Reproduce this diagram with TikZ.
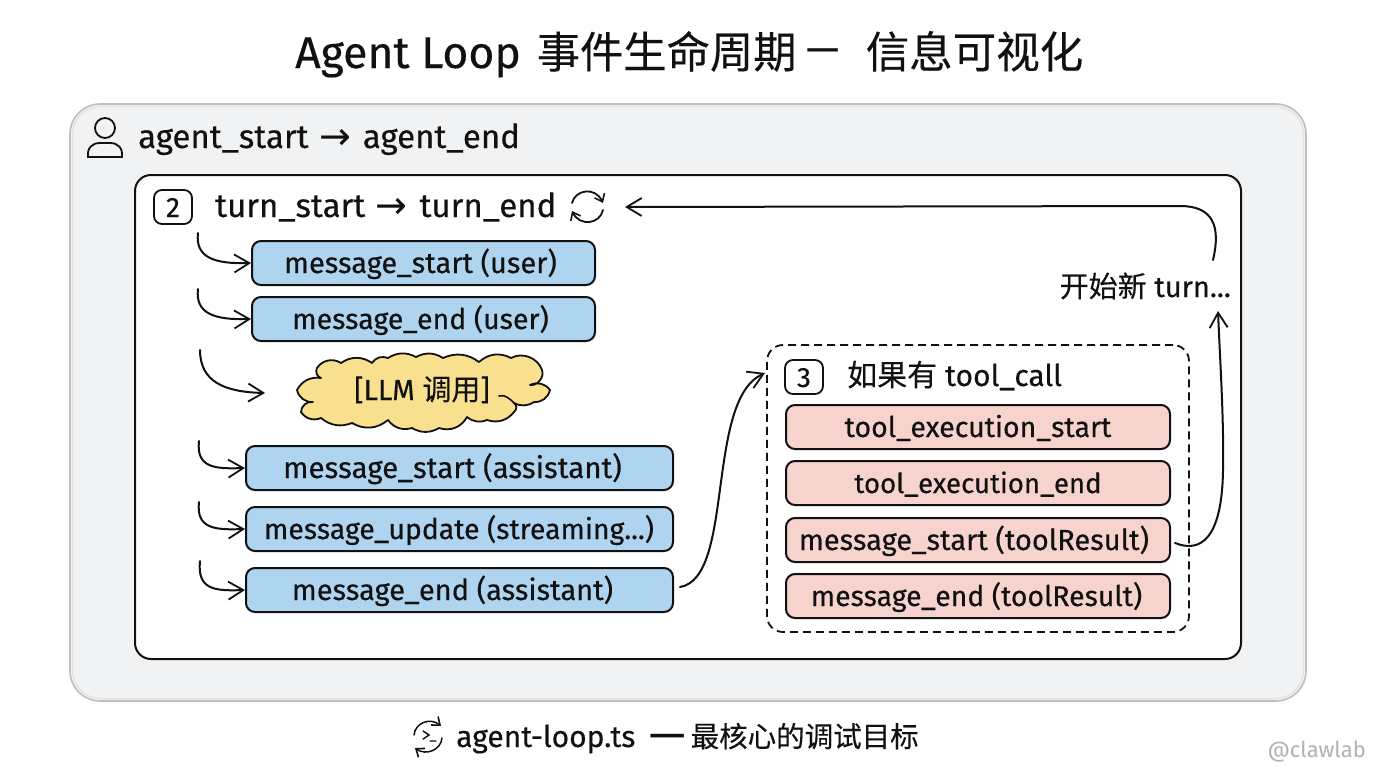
\documentclass[tikz,border=0pt]{standalone}
\usepackage{fontspec}
\setmainfont{Fira Sans}[FakeBold=0.35]
\newfontfamily\cjkf{Noto Sans CJK SC}[FakeBold=0.25]
\newfontfamily\symf{DejaVu Sans}
\newfontfamily\wmf{Fira Sans}
\usetikzlibrary{arrows.meta,calc}
\definecolor{bluefill}{HTML}{AED4EF}
\definecolor{redfill}{HTML}{F7D3CE}
\definecolor{yelfill}{HTML}{F9E08F}
\definecolor{panel}{HTML}{F1F2F4}
\definecolor{ink}{HTML}{111111}
\newcommand{\fsz}[1]{\fontsize{#1}{#1}\selectfont}
\newcommand{\arr}{\hspace{2pt}{\fsz{38}\symf\raisebox{-1pt}{→}}\hspace{3pt}}
\newcommand{\lsh}[1]{\hspace*{#1pt}}
\tikzset{
  txt/.style={text=ink,inner sep=0pt,font=\fsz{29}},
  boxtext/.style={inner sep=0pt,text=ink,text height=20pt,text depth=0pt},
  bluebox/.style={boxtext,draw=ink,fill=bluefill,line width=2pt,rounded corners=9pt,font=\fsz{29}},
  redbox/.style={boxtext,draw=ink,fill=redfill,line width=2pt,rounded corners=9pt,font=\fsz{29},minimum width=384pt,minimum height=44pt},
  badge/.style={boxtext,draw=ink,line width=1.8pt,rounded corners=8pt,minimum width=38pt,minimum height=34pt,font=\fsz{28}},
  conn/.style={draw=ink,line width=2pt,line cap=round,-{Straight Barb[length=15pt,width=18pt,line width=1.8pt]}},
  iconline/.style={draw=ink,line width=1.8pt,line cap=round},
  smalltip/.style={-{Straight Barb[length=7pt,width=11pt,line width=1.6pt]}},
}
\begin{document}
\begin{tikzpicture}[x=1pt,y=-1pt]
\useasboundingbox (0,0) rectangle (1376,768);
\fill[white] (0,0) rectangle (1376,768);
% title
\node[txt,font=\fsz{44.5},anchor=base west] (title) at (295,68) {Agent Loop\hspace{16pt}{\fsz{43.3}\cjkf 事件生命周期}\hspace{10pt}{\wmf\fsz{42}\raisebox{5pt}{—}}\hspace{26pt}{\fsz{43.5}\cjkf 信息可视化}};
% outer
\node[draw=black!25,fill=panel,line width=1.6pt,rounded corners=30pt,minimum width=1236pt,minimum height=597pt] (outer) at (688,402.5) {};
\node[draw=black!12,line width=1pt,rounded corners=28pt,minimum width=1231pt,minimum height=592pt] (outerb) at (688,402.5) {};
% person icon
\draw[iconline] (105,128) circle (10);
\draw[iconline] (88,157) .. controls (87,148) and (92,143) .. (100,143) -- (110,143) .. controls (118,143) and (123,148) .. (122,157) -- cycle;
\node[txt,anchor=base west,font=\fsz{33}] (agent) at (138,148) {agent\_start \arr{} agent\_end};
% inner
\node[draw=ink,fill=white,line width=2pt,rounded corners=16pt,minimum width=1106pt,minimum height=484pt] (inner) at (688,417) {};
\node[badge] (b2) at (173,207) {2};
\node[txt,anchor=base west,font=\fsz{33}] (turn) at (215,217) {turn\_start \arr{} turn\_end};
% refresh icon
\draw[iconline,smalltip] (572,203) .. controls (575,190) and (595,186) .. (603,203);
\draw[iconline,smalltip] (603,210) .. controls (600,224) and (580,227) .. (572,211);
% blue
\node[bluebox,minimum width=343pt,minimum height=44pt] (m1) at (423.5,263) {message\_start (user)\lsh{6}};
\node[bluebox,minimum width=343pt,minimum height=44pt,font=\fsz{28.5}] (m2) at (423.5,319) {message\_end (user)\lsh{6}};
% cloud
\path[draw=ink,fill=yelfill,line width=1.8pt,line join=round]
  (297,390) to[bend left=35] (321,378) to[bend left=50] (317,368) to[bend left=45] (341,363)
  to[bend left=35] (372,363) to[bend left=40] (388,358) to[bend left=30] (416,357) to[bend left=30] (443,358)
  to[bend left=30] (479,362) to[bend left=35] (511,358) to[bend left=50] (542,370) to[bend left=60] (530,385)
  to[bend left=40] (550,390) to[bend left=40] (534,402) to[bend left=30] (514,403) to[bend left=60] (514,412)
  to[bend left=35] (487,420) to[bend left=30] (467,417) to[bend left=40] (439,428) to[bend left=30] (412,428)
  to[bend left=35] (388,420) to[bend left=35] (352,423) to[bend left=30] (321,418) to[bend left=40] (301,412)
  to[bend left=50] (313,402) to[bend left=40] (297,390) -- cycle;
\draw[draw=ink,line width=1.6pt,line cap=round] (499,396) .. controls (505,394) and (510,399) .. (514,403);
\node[boxtext,font=\fsz{29}] (llm) at (422,390) {[LLM {\cjkf 调用}]};
\node[bluebox,minimum width=427pt,minimum height=44pt,font=\fsz{29.5}] (m3) at (459.5,468) {message\_start (assistant)\lsh{14}};
\node[bluebox,minimum width=427pt,minimum height=44pt,font=\fsz{28.4}] (m4) at (459.5,529) {message\_update (streaming...)\lsh{1}};
\node[bluebox,minimum width=427pt,minimum height=44pt] (m5) at (459.5,590) {message\_end (assistant)\lsh{14}};
% free starts
\coordinate (s1) at (198,233);
\coordinate (s2) at (198,289);
\coordinate (s3) at (200,350);
\coordinate (s4) at (199,441);
\coordinate (s5) at (199,502);
\coordinate (s6) at (200,561);
\coordinate (llmin) at (265,393);
\draw[conn] (s1) .. controls (195,258) and (215,264) .. (m1.west);
\draw[conn] (s2) .. controls (195,314) and (215,320) .. (m2.west);
\draw[conn] (s3) .. controls (200,382) and (225,392) .. (llmin);
\draw[conn] (s4) .. controls (196,468) and (215,469) .. (m3.west);
\draw[conn] (s5) .. controls (196,529) and (215,530) .. (m4.west);
\draw[conn] (s6) .. controls (197,590) and (215,591) .. (m5.west);
% dashed
\node[draw=ink,dash pattern=on 8pt off 5pt,line width=1.8pt,rounded corners=16pt,minimum width=422pt,minimum height=287pt] (dash) at (978,488.5) {};
\node[badge] (b3) at (804,377) {3};
\node[txt,anchor=base west,font=\fsz{30}] (ifcall) at (847,386) {{\cjkf 如果有} tool\_call};
\node[redbox,font=\fsz{28.5}] (t1) at (978,427) {tool\_execution\_start};
\node[redbox,font=\fsz{27.6}] (t2) at (978,483) {tool\_execution\_end};
\node[redbox] (t3) at (978,540) {message\_start (toolResult)\lsh{8}};
\node[redbox,font=\fsz{28.4}] (t4) at (978,596) {message\_end (toolResult)\lsh{3}};
% new turn
\node[txt,anchor=base east,font=\fsz{29}] (newturn) at (1231,297) {{\cjkf 开始新} turn...};
\coordinate (ret) at (1213,260);
\coordinate (icon) at (625,207);
\coordinate (up) at (1218,311);
\coordinate (tin) at (765,373);
\draw[conn] (ret) .. controls (1221,226) and (1213,206) .. (1180,206) -- (icon);
\draw[conn] (t3.east) ++(4,3) .. controls (1200,553) and (1222,540) .. (1223,470) .. controls (1224,420) and (1220,360) .. (up);
\draw[conn] (m5.east) ++(6,-3) .. controls (735,578) and (705,400) .. (tin);
% footer
\draw[iconline,smalltip,line width=1.5pt] (414,735) .. controls (415,723) and (430,717) .. (441,726);
\draw[iconline,smalltip,line width=1.5pt] (442,738) .. controls (441,750) and (426,756) .. (415,748);
\draw[iconline,line width=1.4pt] (423,731) -- (429,735) -- (423,739) (430,741) -- (436,741);
\node[txt,anchor=base west,font=\fsz{30}] (foot) at (456,747) {agent-loop.ts\hspace{14pt}{\wmf\fsz{46}\raisebox{-3pt}{—}}\hspace{5pt}{\fsz{28.5}\cjkf 最核心的调试目标}};
\node[anchor=east,inner sep=0pt,text=black!30,font=\wmf\fsz{22}] (wm) at (1366,752) {@clawlab};
\end{tikzpicture}
\end{document}
